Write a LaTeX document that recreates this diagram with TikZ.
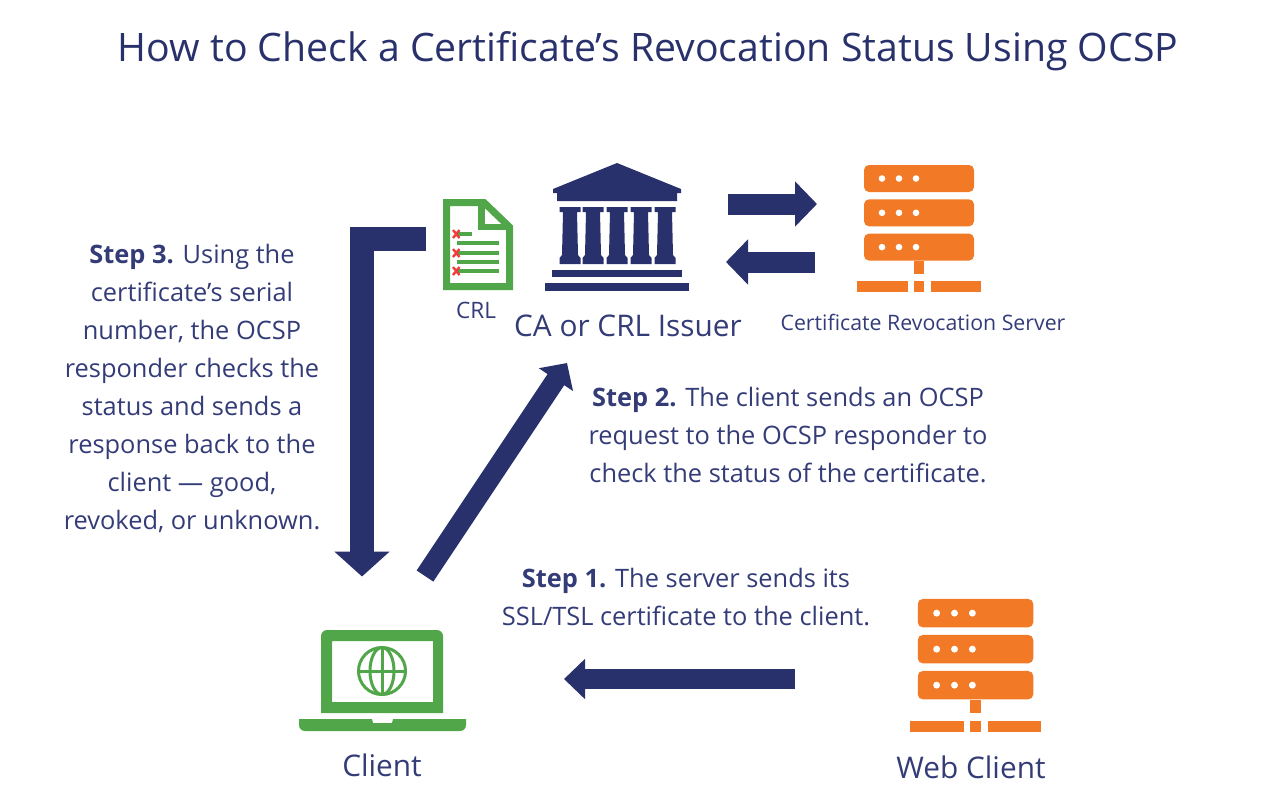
\documentclass[tikz,border=0pt]{standalone}
\usepackage{fontspec}
\setmainfont{Open Sans}
\usetikzlibrary{arrows.meta}
\definecolor{navy}{RGB}{40,49,108}
\definecolor{textblue}{RGB}{52,60,120}
\definecolor{srvorange}{RGB}{242,122,38}
\definecolor{leafgreen}{RGB}{80,166,72}
\definecolor{crossred}{RGB}{240,60,60}
\tikzset{
  txt/.style = {text=textblue, align=center, inner sep=0pt, font=\fontsize{25.4}{38}\selectfont},
  lbl/.style = {text=textblue, inner sep=0pt, font=\fontsize{29.8}{32}\selectfont},
  bigarrow/.style = {navy, line width=21pt, -{Triangle[length=22pt,width=44pt]}},
  orange/.style = {fill=srvorange, draw=none},
  rack/.style = {orange, rounded corners=5pt},
  server/.pic = {
    \foreach \i in {0,1,2} {
      \fill[rack] (-55,{\i*34.3-41}) rectangle (55,{\i*34.3-14});
      \foreach \j in {-37,-20,-3}
        \fill[white] (\j,{\i*34.3-27.5}) circle (3.3);
    }
    \fill[orange] (-5,55) rectangle (5,68);
    \fill[orange] (-5,75) rectangle (5,86);
    \fill[orange] (-62,75) rectangle (-11,86);
    \fill[orange] (12,75) rectangle (62,86);
  }
}
\begin{document}
\begin{tikzpicture}[x=1pt, y=-1pt]
  \useasboundingbox (0,0) rectangle (1266,788);
  \node[text=navy, inner sep=0pt, font=\fontsize{39.2}{44}\selectfont] (title) at (648,51) {How to Check a Certificate’s Revocation Status Using OCSP};

  % bank
  \fill[navy] (617,163) -- (681,189) -- (681,193) -- (677,193) -- (677,201) -- (557,201) -- (557,193) -- (553,193) -- (553,189) -- cycle;
  \foreach \x in {570,593,617,641,665}
    \fill[navy] (\x-10.5,207) -- (\x+10.5,207) -- (\x+10.5,212) -- (\x+7,212) -- (\x+8,255) -- (\x+10.5,258) -- (\x+10.5,264) -- (\x-10.5,264) -- (\x-10.5,258) -- (\x-8,255) -- (\x-7,212) -- (\x-10.5,212) -- cycle;
  \fill[navy] (552,270) rectangle (682,277);
  \fill[navy] (545,283) rectangle (689,291);
  \node[lbl] (issuer) at (628,326) {CA or CRL Issuer};

  % crl document
  \draw[leafgreen, line width=7pt, miter limit=2] (446.5,202.5) -- (484,202.5) -- (509.5,227) -- (509.5,286.5) -- (446.5,286.5) -- cycle;
  \draw[leafgreen, line width=6.5pt] (481.5,202) -- (481.5,227) -- (510,227);
  \foreach \y/\xb in {234/472,243/499,253/499,262/499,271/499}
    \fill[leafgreen] (457,\y-2.2) rectangle (\xb,\y+2.2);
  \foreach \y in {234,253,271}
    \draw[crossred, line width=2.4pt] (453,\y-4) -- (459.5,\y+4) (459.5,\y-4) -- (453,\y+4);
  \node[text=textblue, inner sep=0pt, font=\fontsize{22.6}{26}\selectfont] (crl) at (476,310) {CRL};

  % servers
  \pic at (919,206) {server};
  \node[text=textblue, inner sep=0pt, font=\fontsize{21.3}{26}\selectfont] (revsrv) at (923,322) {Certificate Revocation Server};
  \pic[scale=1.05] at (975.5,642) {server};
  \node[lbl] (webclient) at (971,767) {Web Client};

  % laptop
  \fill[leafgreen, even odd rule] [rounded corners=6pt] (321,713) -- (321,630) -- (443,630) [sharp corners] -- (443,713) -- cycle (332,641) rectangle (433,702);
  \fill[leafgreen] (299,719) -- (372,719) -- (373,723) -- (392,723) -- (393,719) -- (466,719) [rounded corners=6pt] -- (466,731) -- (299,731) [sharp corners] -- cycle;
  \begin{scope}[leafgreen, line width=3pt]
    \draw (382,671) circle (23.5);
    \draw (382,671) ellipse (12 and 23.5);
    \draw (382,647) -- (382,695) (358,671) -- (406,671);
  \end{scope}
  \node[lbl] (client) at (382,765) {Client};

  % arrows
  \coordinate (a1) at (728,204);
  \coordinate (a2) at (817,204);
  \coordinate (b1) at (815,262);
  \coordinate (b2) at (726,262);
  \coordinate (c1) at (795,679);
  \coordinate (c2) at (564,679);
  \coordinate (d1) at (425.5,239);
  \coordinate (d2) at (362,239);
  \coordinate (d3) at (362,576.5);
  \coordinate (e1) at (425,576);
  \coordinate (e2) at (567,363);
  \draw[bigarrow] (a1) -- (a2);
  \draw[bigarrow] (b1) -- (b2);
  \draw[bigarrow, line width=20pt, -{Triangle[length=21pt,width=39pt]}] (c1) -- (c2);
  \draw[bigarrow, line width=24pt, -{Triangle[length=25pt,width=54pt]}] (d1) -- (d2) -- (d3);
  \draw[bigarrow, line width=20pt, -{Triangle[length=20pt,width=40pt]}] (e1) -- (e2);

  % steps
  \node[txt] (step3) at (192,388) {\textbf{Step 3.} Using the\\certificate’s serial\\number, the OCSP\\responder checks the\\status and sends a\\response back to the\\client — good,\\revoked, or unknown.};
  \node[txt] (step2) at (788,435) {\textbf{Step 2.} The client sends an OCSP\\request to the OCSP responder to\\check the status of the certificate.};
  \node[txt] (step1) at (686,597) {\textbf{Step 1.} The server sends its\\SSL/TSL certificate to the client.};
\end{tikzpicture}
\end{document}
